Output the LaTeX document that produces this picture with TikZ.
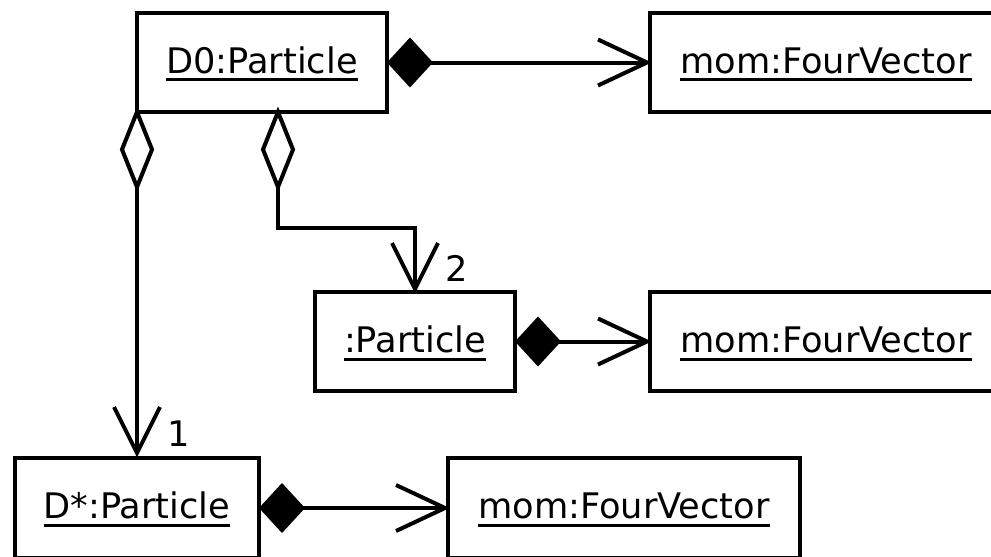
\documentclass[tikz,border=0pt]{standalone}
\usepackage{fontspec}
\setmainfont{DejaVu Sans}
\usetikzlibrary{calc}
\newcommand\ulabel[1]{\vtop{\hbox{#1}\kern5pt\hrule height 3pt}}
\begin{document}
\begin{tikzpicture}[x=1pt,y=-1pt,
  obj/.style={draw,line width=4.5pt,inner sep=0pt,outer sep=0pt,text height=30pt,text depth=9pt,
    font=\fontsize{35.2}{40}\selectfont},
  conn/.style={line width=4pt,line join=miter},
  lbl/.style={font=\fontsize{35.2}{40}\selectfont,inner sep=0pt,anchor=base west}]
\clip (0,0) rectangle (991,557);
\fill[white] (0,0) rectangle (991,557);
% objects
\node[obj,minimum width=250pt,minimum height=99pt] (d0) at (262,62.5) {\ulabel{D0:Particle}};
\node[obj,minimum width=352pt,minimum height=99pt] (m1) at (826,62.5) {\ulabel{mom:FourVector}};
\node[obj,minimum width=200pt,minimum height=99pt] (p) at (415,341.5) {\ulabel{:Particle}};
\node[obj,minimum width=352pt,minimum height=99pt] (m2) at (826,341.5) {\ulabel{mom:FourVector}};
\node[obj,minimum width=244pt,minimum height=100pt] (ds) at (137,508) {\ulabel{D*:Particle}};
\node[obj,minimum width=352pt,minimum height=100pt] (m3) at (624,508) {\ulabel{mom:FourVector}};
% helper coordinates
\coordinate (a2) at ($(d0.south west)+(141,0)$);
\coordinate (t1) at ($(m1.west)+(-3,0)$);
\coordinate (t2) at ($(m2.west)+(-3,0)$);
\coordinate (t3) at ($(m3.west)+(-3,0)$);
\coordinate (tp) at ($(p.north)+(0,-3)$);
\coordinate (tds) at ($(ds.north)+(0,-5)$);
% composition connectors
\draw[conn] (d0.east) -- (t1);
\draw[conn] (p.east) -- (t2);
\draw[conn] (ds.east) -- (t3);
\fill (d0.east) -- ++(23,-25) -- ++(23,25) -- ++(-23,25) -- cycle;
\fill (p.east) -- ++(23,-25) -- ++(23,25) -- ++(-23,25) -- cycle;
\fill (ds.east) -- ++(23,-25) -- ++(23,25) -- ++(-23,25) -- cycle;
\draw[conn] ($(t1)+(-49,-23)$) -- (t1) -- ++(-49,23);
\draw[conn] ($(t2)+(-49,-23)$) -- (t2) -- ++(-49,23);
\draw[conn] ($(t3)+(-49,-23)$) -- (t3) -- ++(-49,23);
% aggregation connectors
\draw[conn] (d0.south west) -- (tds);
\draw[conn] (a2) -- ++(0,116) -| (tp);
\filldraw[conn,fill=white] (d0.south west) -- ++(15,37.5) -- ++(-15,37.5) -- ++(-15,-37.5) -- cycle;
\filldraw[conn,fill=white] (a2) -- ++(15,37.5) -- ++(-15,37.5) -- ++(-15,-37.5) -- cycle;
\draw[conn] ($(tp)+(-23,-46)$) -- (tp) -- ++(23,-46);
\draw[conn] ($(tds)+(-23,-46)$) -- (tds) -- ++(23,-46);
% multiplicities
\node[lbl] (l2) at ($(p.north)+(30,-11)$) {2};
\node[lbl] (l1) at ($(ds.north)+(30,-12)$) {1};
\end{tikzpicture}
\end{document}
